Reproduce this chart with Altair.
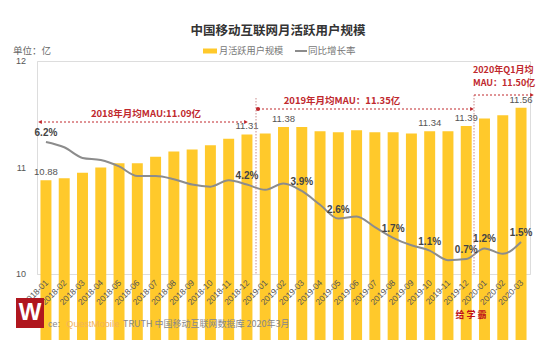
import altair as alt
import pandas as pd

months = ["2018-01", "2018-02", "2018-03", "2018-04", "2018-05", "2018-06",
          "2018-07", "2018-08", "2018-09", "2018-10", "2018-11", "2018-12",
          "2019-01", "2019-02", "2019-03", "2019-04", "2019-05", "2019-06",
          "2019-07", "2019-08", "2019-09", "2019-10", "2019-11", "2019-12",
          "2020-01", "2020-02", "2020-03"]
mau = [10.88, 10.90, 10.95, 11.00, 11.04, 11.04, 11.10, 11.15, 11.17, 11.21,
       11.27, 11.31, 11.32, 11.38, 11.38, 11.34, 11.33, 11.35, 11.33, 11.33,
       11.32, 11.34, 11.34, 11.39, 11.46, 11.49, 11.56]
growth = [6.2, 5.95, 5.45, 5.35, 5.05, 4.6, 4.6, 4.45, 4.2, 4.1, 4.4, 4.2,
          3.95, 4.25, 3.9, 3.25, 2.6, 2.7, 2.2, 1.7, 1.35, 1.1, 0.65, 0.7,
          1.2, 0.95, 1.5]
mau_label_months = ["2018-01", "2018-12", "2019-02", "2019-10", "2019-12", "2020-03"]
growth_label_months = ["2018-01", "2018-12", "2019-03", "2019-05", "2019-08",
                       "2019-10", "2019-12", "2020-01", "2020-03"]
y_ticks = [10, 11, 12]

df = pd.DataFrame({"month": months, "mau": mau, "growth": growth})
df["mau_label"] = [f"{v:.2f}" if m in mau_label_months else "" for m, v in zip(months, mau)]
df["growth_label"] = [f"{v:.1f}%" if m in growth_label_months else "" for m, v in zip(months, growth)]
ticks_df = pd.DataFrame({"mau": y_ticks, "tick": [str(v) for v in y_ticks]})

FONT = "Liberation Sans, Noto Sans CJK SC, sans-serif"
CJK = "Noto Sans CJK SC, Liberation Sans, sans-serif"
RED = "#C0282D"
YELLOW = "#FFC92B"

X = alt.X("month:N", sort=months, title=None,
          scale=alt.Scale(paddingInner=0.4, paddingOuter=0.19),
          axis=alt.Axis(labels=False, ticks=False, domainColor="#dddddd", grid=False))
Y_MAU = alt.Y("mau:Q", scale=alt.Scale(domain=[10, 12], zero=False), title=None,
              axis=alt.Axis(labels=False, ticks=False, grid=False, domainColor="#dddddd"))
Y_G = alt.Y("growth:Q", scale=alt.Scale(domain=[0, 10]), axis=None)

base = alt.Chart(df)

bars = base.mark_bar(color=YELLOW).encode(x=X, y=Y_MAU)
bar_text = base.mark_text(baseline="bottom", dy=-3, fontSize=9.5, color="#555",
                          font=FONT).encode(x=X, y=Y_MAU, text="mau_label:N")
x_labels = base.mark_text(angle=315, align="right", baseline="middle", fontSize=8.5,
                          color="#555", font="Liberation Sans", dx=1).encode(
    x=X, y=alt.value(221), text="month:N")
y_labels = alt.Chart(ticks_df).mark_text(align="right", baseline="middle", fontSize=9,
                                         color="#555", font="Liberation Sans").encode(
    x=alt.value(-11), y=Y_MAU, text="tick:N")
line = base.mark_line(color="#8c8c8c", strokeWidth=2, interpolate="monotone").encode(x=X, y=Y_G)
growth_text = base.mark_text(baseline="bottom", dy=-4, fontSize=10, fontWeight="bold",
                             color="#444", font=FONT).encode(x=X, y=Y_G, text="growth_label:N")

one = alt.Data(values=[{}])


def txt(s, x, y, size=9.5, color="#666", weight="normal", align="left", font=CJK):
    return alt.Chart(one).mark_text(text=s, fontSize=size, color=color, fontWeight=weight,
                                    align=align, baseline="middle", font=font).encode(
        x=alt.value(x), y=alt.value(y))


def rule(x1, y1, x2, y2, color=RED, dash=(2, 2), width=1):
    return alt.Chart(one).mark_rule(color=color, strokeDash=list(dash), strokeWidth=width).encode(
        x=alt.value(x1), y=alt.value(y1), x2=alt.value(x2), y2=alt.value(y2))


def arrow(x, y, shape, color=RED):
    return alt.Chart(one).mark_point(shape=shape, filled=True, size=18, color=color,
                                     opacity=1).encode(x=alt.value(x), y=alt.value(y))


annotations = [
    txt("中国移动互联网月活跃用户规模", 241, -30, size=12.5, color="#333", weight="bold", align="center"),
    txt("单位：亿", -24, -10, size=9.5, color="#666"),
    alt.Chart(one).mark_rect(color=YELLOW).encode(
        x=alt.value(166), x2=alt.value(180), y=alt.value(-12.5), y2=alt.value(-7.5)),
    txt("月活跃用户规模", 182, -10, size=9.2, color="#777"),
    rule(258, -10, 270, -10, color="#8c8c8c", dash=(1, 0), width=2),
    txt("同比增长率", 271, -10, size=9.5, color="#777"),
    # 2018
    rule(3, 61, 209, 61),
    arrow(3, 61, "triangle-left"),
    arrow(209, 61, "triangle-right"),
    txt("2018年月均MAU:11.09亿", 109, 53, size=9.5, color=RED, weight="bold", align="center"),
    rule(219, 37, 219, 213, color="#C98A8A", dash=(1.5, 1.5)),
    # 2019
    rule(221, 48, 435, 48),
    arrow(221, 48, "circle"),
    arrow(435, 48, "triangle-right"),
    txt("2019年月均MAU：11.35亿", 305, 40, size=9.5, color=RED, weight="bold", align="center"),
    rule(437, 34, 437, 213, color="#C98A8A", dash=(1.5, 1.5)),
    # 2020
    rule(437, 34, 495, 34),
    arrow(495, 34, "triangle-right"),
    txt("2020年Q1月均", 436, 9, size=9, color=RED, weight="bold"),
    txt("MAU：11.50亿", 436, 22, size=9, color=RED, weight="bold"),
    # source
    txt("ce:", 23, 263, size=9, color="#888", align="right", font=FONT),
    txt("QuestMobile", 29, 263, size=9.5, color="#F2B35A", font=FONT),
    txt("TRUTH 中国移动互联网数据库 2020年3月", 86, 263, size=9, color="#888"),
    alt.Chart(one).mark_rect(color="#B0161E").encode(
        x=alt.value(-21), x2=alt.value(7), y=alt.value(237), y2=alt.value(267)),
    txt("W", -7, 252, size=24, color="white", weight="bold", align="center", font=FONT),
    txt("给 学 霸", 434, 254, size=9, color="#C0101A", weight="bold", align="center"),
]

left = alt.layer(bars, bar_text, y_labels, x_labels)
right = alt.layer(line, growth_text)
chart = alt.layer(left, right, *annotations).resolve_scale(y="independent").properties(
    width=493, height=213,
    autosize=alt.AutoSizeParams(type="none"),
    padding={"left": 37, "top": 61, "right": 20, "bottom": 66},
).configure_view(stroke=None).configure(background="white")

chart.save("out.html", embed_options={"renderer": "svg", "actions": False})
